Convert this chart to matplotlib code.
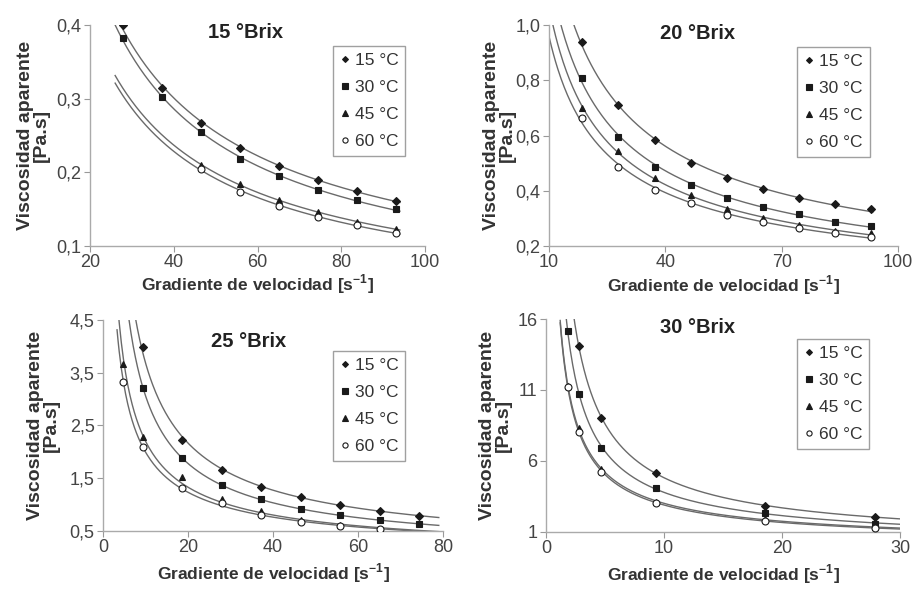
import numpy as np
import matplotlib
matplotlib.use('Agg')
import matplotlib.pyplot as plt
from matplotlib.ticker import FuncFormatter

plt.rcParams['font.family'] = ['Liberation Sans', 'DejaVu Sans']
plt.rcParams['mathtext.fontset'] = 'custom'
plt.rcParams['mathtext.rm'] = 'Liberation Sans'
plt.rcParams['mathtext.bf'] = 'Liberation Sans:bold'

# temperatures (legend)
temps = ['15 °C', '30 °C', '45 °C', '60 °C']

# 15 °Brix
gr15 = [27.9, 37.2, 46.5, 55.8, 65.1, 74.4, 83.7, 93.0]
b15_t15 = [0.400, 0.314, 0.267, 0.233, 0.209, 0.190, 0.175, 0.161]
b15_t30 = [0.382, 0.302, 0.255, 0.218, 0.195, 0.176, 0.162, 0.150]
b15_t45 = [None, None, 0.210, 0.184, 0.162, 0.146, 0.133, 0.123]
b15_t60 = [None, None, 0.205, 0.174, 0.155, 0.139, 0.128, 0.118]

# 20 °Brix
gr20 = [18.6, 27.9, 37.2, 46.5, 55.8, 65.1, 74.4, 83.7, 93.0]
b20_t15 = [0.940, 0.710, 0.584, 0.499, 0.445, 0.405, 0.375, 0.351, 0.333]
b20_t30 = [0.810, 0.596, 0.487, 0.421, 0.373, 0.340, 0.315, 0.288, 0.273]
b20_t45 = [0.698, 0.545, 0.445, 0.385, 0.334, 0.300, 0.276, 0.256, 0.246]
b20_t60 = [0.665, 0.487, 0.403, 0.355, 0.312, 0.288, 0.264, 0.246, 0.234]

# 25 °Brix
gr25 = [4.65, 9.3, 18.6, 27.9, 37.2, 46.5, 55.8, 65.1, 74.4]
b25_t15 = [None, 3.98, 2.23, 1.66, 1.34, 1.15, 0.99, 0.88, 0.79]
b25_t30 = [None, 3.22, 1.89, 1.37, 1.11, 0.92, 0.80, 0.70, 0.63]
b25_t45 = [3.66, 2.29, 1.52, 1.11, 0.88, 0.70, 0.61, 0.53, None]
b25_t60 = [3.32, 2.10, 1.32, 1.03, 0.81, 0.67, 0.60, 0.53, None]

# 30 °Brix
gr30 = [1.86, 2.79, 4.65, 9.3, 18.6, 27.9]
b30_t15 = [None, 14.1, 9.04, 5.18, 2.83, 2.06]
b30_t30 = [15.15, 10.69, 6.88, 4.10, 2.36, 1.59]
b30_t45 = [11.3, 8.29, 5.47, 3.12, 1.89, 1.35]
b30_t60 = [11.2, 8.05, 5.23, 3.07, 1.78, 1.28]

panels = [
    dict(title='15 °Brix', x=gr15, ys=[b15_t15, b15_t30, b15_t45, b15_t60],
         rect=[0.0985, 0.5823, 0.3665, 0.3752], xlim=(20, 100), ylim=(0.1, 0.4),
         xt=[20, 40, 60, 80, 100], yt=[0.1, 0.2, 0.3, 0.4], fit=(26, 94),
         tpos=(0.463, 0.965), lpos=(0.725, 0.905), ylc=-0.119, xlc=-0.12, ydec=1),
    dict(title='20 °Brix', x=gr20, ys=[b20_t15, b20_t30, b20_t45, b20_t60],
         rect=[0.6007, 0.5823, 0.3818, 0.3752], xlim=(10, 100), ylim=(0.2, 1.0),
         xt=[10, 40, 70, 100], yt=[0.2, 0.4, 0.6, 0.8, 1.0], fit=(10, 93.5),
         tpos=(0.427, 0.962), lpos=(0.711, 0.90), ylc=-0.095, xlc=-0.125, ydec=1),
    dict(title='25 °Brix', x=gr25, ys=[b25_t15, b25_t30, b25_t45, b25_t60],
         rect=[0.1127, 0.0985, 0.372, 0.3582], xlim=(0, 80), ylim=(0.5, 4.5),
         xt=[0, 20, 40, 60, 80], yt=[0.5, 1.5, 2.5, 3.5, 4.5], fit=(3.3, 79),
         tpos=(0.429, 0.896), lpos=(0.676, 0.853), ylc=-0.126, xlc=-0.145, ydec=1),
    dict(title='30 °Brix', x=gr30, ys=[b30_t15, b30_t30, b30_t45, b30_t60],
         rect=[0.5974, 0.0968, 0.3873, 0.3616], xlim=(0, 30), ylim=(1, 16),
         xt=[0, 10, 20, 30], yt=[1, 6, 11, 16], fit=(1.2, 30),
         tpos=(0.429, 0.962), lpos=(0.709, 0.906), ylc=-0.096, xlc=-0.145, ydec=0),
]

markers = [dict(marker='D', ms=4, mfc='#1a1a1a'),
           dict(marker='s', ms=5, mfc='#1a1a1a'),
           dict(marker='^', ms=5, mfc='#1a1a1a'),
           dict(marker='o', ms=5, mfc='white')]

fig = plt.figure(figsize=(9.14, 5.89), dpi=100)

for p in panels:
    ax = fig.add_axes(p['rect'])
    x = np.array(p['x'])
    handles = []
    for ys, mk, lab in zip(p['ys'], markers, temps):
        ok = np.array([v is not None for v in ys])
        xv = x[ok]
        yv = np.array([v for v in ys if v is not None])
        # power-law fit (Ostwald) through the points
        b, a = np.polyfit(np.log(xv), np.log(yv), 1)
        xf = np.linspace(p['fit'][0], p['fit'][1], 300)
        ax.plot(xf, np.exp(a) * xf ** b, color='#6a6a6a', lw=1.0, zorder=2)
        h, = ax.plot(xv, yv, ls='none', color='#1a1a1a', mec='#1a1a1a',
                     mew=0.8, zorder=3, label=lab, **mk)
        handles.append(h)
    ax.set_xlim(*p['xlim'])
    ax.set_ylim(*p['ylim'])
    ax.set_xticks(p['xt'])
    ax.set_yticks(p['yt'])
    dec = p['ydec']
    ax.yaxis.set_major_formatter(FuncFormatter(
        lambda v, pos, d=dec: ('%.*f' % (d, v)).replace('.', ',')))
    for s in ['top', 'right']:
        ax.spines[s].set_visible(False)
    for s in ['left', 'bottom']:
        ax.spines[s].set_color('#aaaaaa')
        ax.spines[s].set_linewidth(1.0)
    ax.tick_params(direction='out', length=4, color='#999999',
                   labelsize=13, labelcolor='#444444', pad=2)
    ax.text(p['tpos'][0], p['tpos'][1], p['title'], transform=ax.transAxes,
            ha='center', va='center', fontsize=14.5, fontweight='bold',
            color='#222222')
    ax.set_ylabel('Viscosidad aparente\n[Pa.s]', fontsize=14,
                  fontweight='bold', color='#333333', linespacing=0.95)
    ax.yaxis.set_label_coords(p['ylc'], 0.5)
    ax.set_xlabel('Gradiente de velocidad [s$^{\\mathbf{-1}}$]', fontsize=12.5,
                  fontweight='bold', color='#333333')
    ax.xaxis.set_label_coords(0.5, p['xlc'])
    leg = ax.legend(handles=handles, loc='upper left', bbox_to_anchor=p['lpos'],
                    fontsize=12.5, frameon=True, fancybox=False,
                    borderaxespad=0, borderpad=0.4, labelspacing=0.68,
                    handlelength=0.6, handletextpad=0.25, markerscale=0.75)
    leg.get_frame().set_edgecolor('#888888')
    leg.get_frame().set_linewidth(1.0)
    for t in leg.get_texts():
        t.set_color('#333333')

fig.savefig('out.png', dpi=100)
